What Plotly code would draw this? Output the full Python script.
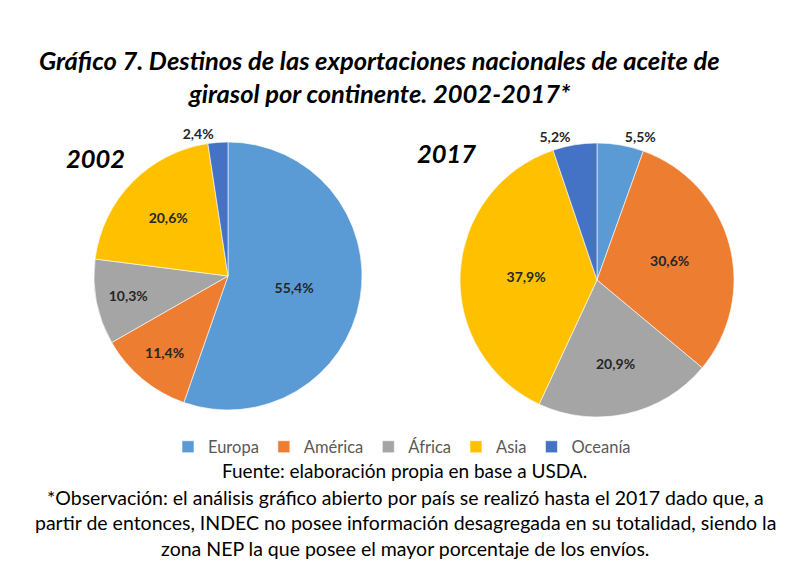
import plotly.graph_objects as go

continents = ["Europa", "América", "África", "Asia", "Oceanía"]
values_2002 = [55.4, 11.4, 10.3, 20.6, 2.4]
values_2017 = [5.5, 30.6, 20.9, 37.9, 5.2]
colors = ["#5B9BD5", "#ED7D31", "#A5A5A5", "#FFC000", "#4472C4"]
pos_2002 = ["inside", "inside", "inside", "inside", "outside"]
pos_2017 = ["outside", "inside", "inside", "inside", "outside"]

W, H = 807, 585
OFF = 8  # default page body margin
FONT = "Lato"


def px(x):
    return (x - OFF) / W


def py(y):
    return 1 - (y - OFF) / H


def dom(cx, cy, r):
    return dict(x=[px(cx - r), px(cx + r)], y=[py(cy + r), py(cy - r)])


fig = go.Figure()
for vals, pos, (cx, cy, r) in [
    (values_2002, pos_2002, (228, 276, 134)),
    (values_2017, pos_2017, (597, 280, 137)),
]:
    fig.add_trace(go.Pie(
        labels=continents, values=vals, sort=False, direction="clockwise", rotation=0,
        marker=dict(colors=colors, line=dict(color="white", width=0.6)),
        texttemplate="%{value:.1f}%", textposition=pos,
        textfont=dict(family=FONT, size=14, color="#262626", weight="bold"),
        insidetextorientation="horizontal", hoverinfo="label+value",
        domain=dom(cx, cy, r),
    ))

ann = []
ann.append(dict(text="<b><i>Gráfico 7. Destinos de las exportaciones nacionales de aceite de</i></b>",
                x=px(379), y=py(60), font=dict(size=25.5, color="#000000")))
ann.append(dict(text="<b><i>girasol por continente. 2002-2017*</i></b>",
                x=px(379), y=py(93), font=dict(size=25.5, color="#000000")))
ann.append(dict(text="<b><i>2002</i></b>", x=px(95), y=py(158), font=dict(size=25.5, color="#000000")))
ann.append(dict(text="<b><i>2017</i></b>", x=px(446), y=py(153), font=dict(size=25.5, color="#000000")))
ann.append(dict(text="Fuente: elaboración propia en base a USDA.", x=px(404), y=py(470),
                font=dict(size=19, color="#000000")))
obs = [
    "*Observación: el análisis gráfico abierto por país se realizó hasta el 2017 dado que, a",
    "partir de entonces, INDEC no posee información desagregada en su totalidad, siendo la",
    "zona NEP la que posee el mayor porcentaje de los envíos.",
]
for i, line in enumerate(obs):
    ann.append(dict(text=line, x=px(405), y=py(497 + 25.5 * i), font=dict(size=19.5, color="#000000")))
for a in ann:
    a.update(xref="paper", yref="paper", showarrow=False, xanchor="center", yanchor="middle")
    a["font"]["family"] = FONT

fig.update_layout(
    width=W, height=H, margin=dict(l=0, r=0, t=0, b=0),
    paper_bgcolor="white", plot_bgcolor="white",
    separators=",.",
    font=dict(family=FONT),
    annotations=ann,
    legend=dict(orientation="h", x=px(402), xanchor="center", y=py(447), yanchor="middle",
                font=dict(size=16.5, color="#595959", family=FONT), itemwidth=30,
                traceorder="normal"),
)

fig.write_html("out.html")
